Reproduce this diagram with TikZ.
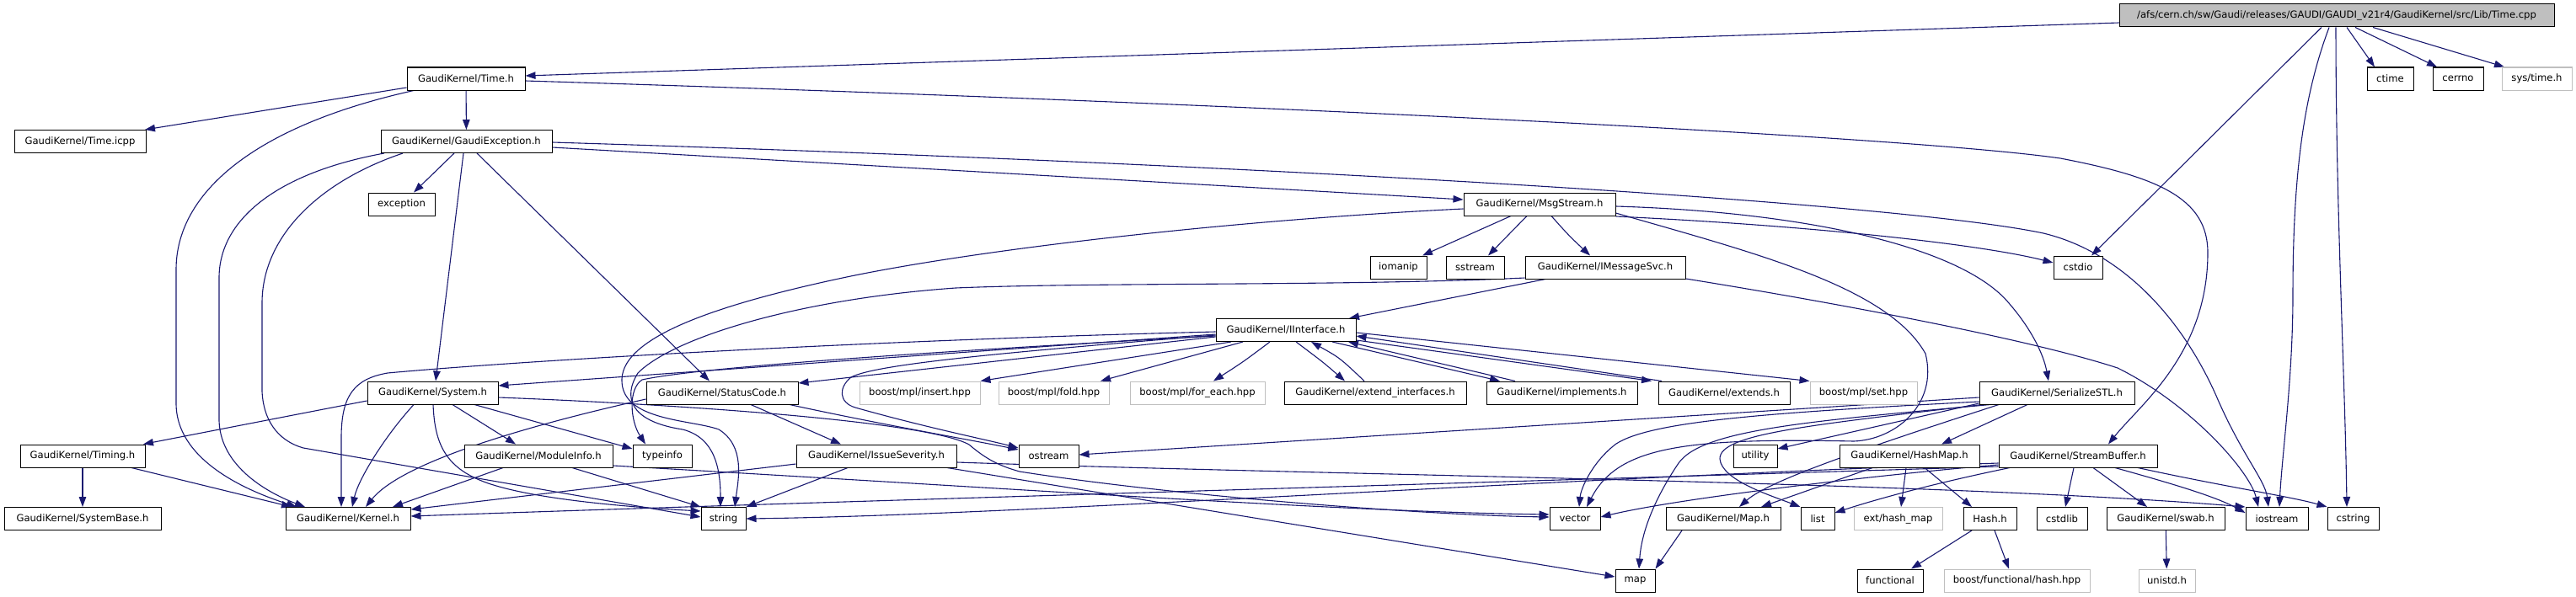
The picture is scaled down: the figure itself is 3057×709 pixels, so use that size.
\documentclass[tikz,border=0pt]{standalone}
\usepackage{fontspec}
\setmainfont{DejaVu Sans}
\usetikzlibrary{arrows.meta,backgrounds}
\definecolor{edgec}{HTML}{191970}
\definecolor{grayc}{HTML}{BFBFBF}
\newcommand{\nodefont}{\fontsize{11.6pt}{13pt}\selectfont}
\begin{document}
\begin{tikzpicture}[x=1pt,y=-1pt,
  box/.style={draw=black, fill=white, line width=1pt, minimum height=27pt, inner sep=0pt, font=\nodefont},
  gbox/.style={box, draw=grayc},
  rootbox/.style={box, fill=grayc},
  edge/.style={draw=edgec, line width=1.1pt, -{Triangle[length=12pt,width=8.5pt]}}]
\useasboundingbox (0,0) rectangle (3057,709);
% level 0-1
\node[rootbox,minimum width=516pt] (TimeCpp) at (2773,18.5) {/afs/cern.ch/sw/Gaudi/releases/GAUDI/GAUDI\_v21r4/GaudiKernel/src/Lib/Time.cpp};
\node[box,minimum width=140pt] (TimeH) at (553,93.5) {GaudiKernel/Time.h};
\node[box,minimum width=55pt] (ctime) at (2836.5,93.5) {ctime};
\node[box,minimum width=60pt] (cerrno) at (2917,93.5) {cerrno};
\node[gbox,minimum width=83pt] (systime) at (3010.5,93.5) {sys/time.h};
% level 2-3
\node[box,minimum width=156pt] (TimeIcpp) at (95,168) {GaudiKernel/Time.icpp};
\node[box,minimum width=203pt] (GExc) at (553.5,168) {GaudiKernel/GaudiException.h};
\node[box,minimum width=79pt] (exception) at (476.5,242.5) {exception};
\node[box,minimum width=180pt] (MsgStream) at (1827,242.5) {GaudiKernel/MsgStream.h};
% level 4-5
\node[box,minimum width=67pt] (iomanip) at (1659.5,317.5) {iomanip};
\node[box,minimum width=69pt] (sstream) at (1750.5,317.5) {sstream};
\node[box,minimum width=190pt] (IMsgSvc) at (1905,317.5) {GaudiKernel/IMessageSvc.h};
\node[box,minimum width=58pt] (cstdio) at (2466,317.5) {cstdio};
\node[box,minimum width=166pt] (IInterface) at (1526,392) {GaudiKernel/IInterface.h};
% level 6
\node[box,minimum width=155pt] (System) at (513.5,466.5) {GaudiKernel/System.h};
\node[box,minimum width=180pt] (StatusCode) at (857,466.5) {GaudiKernel/StatusCode.h};
\node[gbox,minimum width=143pt] (insert) at (1091.5,466.5) {boost/mpl/insert.hpp};
\node[gbox,minimum width=131pt] (fold) at (1250.5,466.5) {boost/mpl/fold.hpp};
\node[gbox,minimum width=160pt] (foreach) at (1421,466.5) {boost/mpl/for\_each.hpp};
\node[box,minimum width=216pt] (extif) at (1632,466.5) {GaudiKernel/extend\_interfaces.h};
\node[box,minimum width=179pt] (implements) at (1853.5,466.5) {GaudiKernel/implements.h};
\node[box,minimum width=156pt] (extends) at (2046,466.5) {GaudiKernel/extends.h};
\node[gbox,minimum width=127pt] (mplset) at (2211.5,466.5) {boost/mpl/set.hpp};
\node[box,minimum width=184pt] (SerSTL) at (2441,466.5) {GaudiKernel/SerializeSTL.h};
% level 7
\node[box,minimum width=148pt] (Timing) at (98,541.5) {GaudiKernel/Timing.h};
\node[box,minimum width=176pt] (ModuleInfo) at (639,541.5) {GaudiKernel/ModuleInfo.h};
\node[box,minimum width=70pt] (typeinfo) at (786,541.5) {typeinfo};
\node[box,minimum width=190pt] (IssueSev) at (1040,541.5) {GaudiKernel/IssueSeverity.h};
\node[box,minimum width=71pt] (ostream) at (1244.5,541.5) {ostream};
\node[box,minimum width=52pt] (utility) at (2083,541.5) {utility};
\node[box,minimum width=166pt] (HashMap) at (2266,541.5) {GaudiKernel/HashMap.h};
\node[box,minimum width=188pt] (StreamBuf) at (2466,541.5) {GaudiKernel/StreamBuffer.h};
% level 8
\node[box,minimum width=186pt] (SystemBase) at (98,616) {GaudiKernel/SystemBase.h};
\node[box,minimum width=148pt] (Kernel) at (413,616) {GaudiKernel/Kernel.h};
\node[box,minimum width=53pt] (string) at (858.5,616) {string};
\node[box,minimum width=60pt] (vector) at (1869,616) {vector};
\node[box,minimum width=136pt] (MapH) at (2045,616) {GaudiKernel/Map.h};
\node[box,minimum width=40pt] (list) at (2157,616) {list};
\node[gbox,minimum width=105pt] (hashmap) at (2252.5,616) {ext/hash\_map};
\node[box,minimum width=63pt] (Hash) at (2361.5,616) {Hash.h};
\node[box,minimum width=60pt] (cstdlib) at (2447,616) {cstdlib};
\node[box,minimum width=140pt] (swab) at (2570,616) {GaudiKernel/swab.h};
\node[box,minimum width=74pt] (iostream) at (2702,616) {iostream};
\node[box,minimum width=61pt] (cstring) at (2792.5,616) {cstring};
% level 9
\node[box,minimum width=47pt] (map) at (1940.5,689.5) {map};
\node[box,minimum width=78pt] (functional) at (2243,689.5) {functional};
\node[gbox,minimum width=173pt] (bfhash) at (2393.5,689.5) {boost/functional/hash.hpp};
\node[gbox,minimum width=67pt] (unistd) at (2571.5,689.5) {unistd.h};

\begin{scope}[on background layer]
% Time.cpp
\draw[edge] (TimeCpp.west |- 0,27) -- (TimeH.east |- 0,90);
\draw[edge] (TimeCpp.south -| 2755,0) -- (cstdio.north -| 2482,0);
\draw[edge] (TimeCpp.south -| 2764,0) .. controls (2735,110) and (2721,200) .. (2721,350) .. controls (2721,450) and (2708,540) .. (iostream.north -| 2705,0);
\draw[edge] (TimeCpp.south -| 2772,0) .. controls (2772,250) and (2783,450) .. (cstring.north -| 2785,0);
\draw[edge] (TimeCpp.south -| 2785,0) -- (ctime.north -| 2818,0);
\draw[edge] (TimeCpp.south -| 2795,0) -- (cerrno.north -| 2892,0);
\draw[edge] (TimeCpp.south -| 2816,0) -- (systime.north -| 2972,0);
% Time.h
\draw[edge] (TimeH.west |- 0,104) -- (TimeIcpp.north -| 172,0);
\draw[edge] (TimeH.south -| 491,0) .. controls (300,150) and (209,230) .. (209,320) -- (209,480) .. controls (210,550) and (300,585) .. (Kernel.north -| 352,0);
\draw[edge] (TimeH) -- (GExc);
\draw[edge] (TimeH.east |- 0,96) .. controls (1400,120) and (2250,160) .. (2445,188) .. controls (2560,210) and (2620,235) .. (2620,300) .. controls (2620,420) and (2540,480) .. (StreamBuf.north -| 2502,0);
% GaudiException.h
\draw[edge] (GExc.south -| 456,0) .. controls (330,205) and (260,260) .. (260,330) -- (260,500) .. controls (262,560) and (330,590) .. (Kernel.north -| 362,0);
\draw[edge] (GExc.south -| 478,0) .. controls (380,215) and (311,280) .. (311,360) -- (311,465) .. controls (313,505) and (335,525) .. (360,532) -- (string.west |- 0,614);
\draw[edge] (GExc.south -| 539,0) -- (exception.north -| 491,0);
\draw[edge] (GExc.south -| 550,0) -- (System.north -| 517,0);
\draw[edge] (GExc.south -| 566,0) -- (StatusCode.north -| 842,0);
\draw[edge] (GExc.east |- 0,175) -- (MsgStream.west |- 0,237);
\draw[edge] (GExc.east |- 0,169) .. controls (1500,195) and (2250,240) .. (2425,277) .. controls (2520,300) and (2590,380) .. (2630,470) .. controls (2660,540) and (2688,570) .. (iostream.north -| 2692,0);
% MsgStream.h
\draw[edge] (MsgStream.south -| 1793,0) -- (iomanip.north -| 1688,0);
\draw[edge] (MsgStream.south -| 1812,0) -- (sstream.north -| 1766,0);
\draw[edge] (MsgStream.south -| 1841,0) .. controls (1862,280) .. (IMsgSvc.north -| 1887,0);
\draw[edge] (MsgStream.west |- 0,248) .. controls (1450,262) and (1150,298) .. (1000,330) .. controls (850,362) and (740,400) .. (738,450) .. controls (736,500) and (820,498) .. (853,510) .. controls (885,530) and (876,570) .. (string.north -| 872,0);
\draw[edge] (MsgStream.east |- 0,257) .. controls (2150,268) and (2350,290) .. (cstdio.west |- 0,312);
\draw[edge] (MsgStream.east |- 0,245) .. controls (2150,252) and (2330,295) .. (2384,360) .. controls (2410,390) and (2425,420) .. (SerSTL.north -| 2431,0);
\draw[edge] (MsgStream.east |- 0,253) .. controls (2080,300) and (2240,340) .. (2285,420) .. controls (2300,480) and (2250,522) .. (2200,524) .. controls (2000,520) and (1920,530) .. (vector.north -| 1883,0);
% IMessageSvc.h
\draw[edge] (IMsgSvc.south -| 1834,0) -- (IInterface.north -| 1601,0);
\draw[edge] (IMsgSvc.west |- 0,330) .. controls (1600,340) and (1300,335) .. (1134,342) .. controls (950,355) and (800,400) .. (757,443) .. controls (740,470) and (745,500) .. (810,510) .. controls (850,520) and (855,560) .. (string.north -| 855,0);
\draw[edge] (IMsgSvc.east |- 0,331) .. controls (2150,355) and (2400,400) .. (2513,437) .. controls (2600,480) and (2670,560) .. (iostream.north -| 2680,0);
% IInterface.h
\draw[edge] (IInterface.west |- 0,394) .. controls (1000,405) and (600,430) .. (460,443) .. controls (420,450) and (405,470) .. (405,520) -- (Kernel.north -| 405,0);
\draw[edge] (IInterface.west |- 0,397) -- (System.east |- 0,458);
\draw[edge] (IInterface.west |- 0,400) -- (StatusCode.east |- 0,455);
\draw[edge] (IInterface.west |- 0,399) .. controls (1100,418) and (830,436) .. (762,451) .. controls (745,462) and (748,500) .. (typeinfo.north -| 766,0);
\draw[edge] (IInterface.west |- 0,398) .. controls (1200,418) and (1040,432) .. (1010,448) .. controls (995,460) and (995,478) .. (1015,484) .. controls (1100,508) and (1170,522) .. (ostream.west |- 0,532);
\draw[edge] (IInterface.south -| 1461,0) -- (insert.north east);
\draw[edge] (IInterface.south -| 1475,0) -- (fold.north -| 1306,0);
\draw[edge] (IInterface.south -| 1507,0) .. controls (1475,430) .. (foreach.north -| 1440,0);
\draw[edge] (IInterface.south -| 1538,0) .. controls (1570,430) .. (extif.north -| 1596,0);
\draw[edge] (extif.north -| 1619,0) .. controls (1590,425) .. (IInterface.south -| 1556,0);
\draw[edge] (IInterface.south -| 1581,0) -- (implements.north -| 1780,0);
\draw[edge] (implements.north -| 1798,0) -- (IInterface.south -| 1600,0);
\draw[edge] (IInterface.east |- 0,404) -- (extends.north -| 1960,0);
\draw[edge] (extends.north -| 1972,0) -- (IInterface.east |- 0,399);
\draw[edge] (IInterface.east |- 0,395) -- (mplset.north west);
% System.h
\draw[edge] (System.west |- 0,476) -- (Timing.north -| 170,0);
\draw[edge] (System.south -| 491,0) .. controls (455,520) and (425,570) .. (Kernel.north -| 418,0);
\draw[edge] (System.south -| 514,0) .. controls (516,530) and (530,560) .. (589,577) .. controls (650,595) and (760,603) .. (string.west |- 0,607);
\draw[edge] (System.south -| 537,0) -- (ModuleInfo.north -| 612,0);
\draw[edge] (System.south -| 563,0) -- (typeinfo.west |- 0,533);
\draw[edge] (System.east |- 0,472) .. controls (800,480) and (1100,500) .. (1150,528) .. controls (1170,545) and (1185,553) .. (1210,560) .. controls (1400,590) and (1700,612) .. (vector.west |- 0,614);
% Timing.h
\draw[edge] (Timing) -- (SystemBase);
\draw[edge] (Timing.south -| 156,0) -- (Kernel.north -| 346,0);
% ModuleInfo.h
\draw[edge] (ModuleInfo.south -| 597,0) -- (Kernel.north -| 466,0);
\draw[edge] (ModuleInfo.south -| 679,0) -- (string.north west);
\draw[edge] (ModuleInfo.east |- 0,553) .. controls (1200,580) and (1600,608) .. (vector.west |- 0,611);
% StatusCode.h
\draw[edge] (StatusCode.west |- 0,474) .. controls (650,500) and (480,545) .. (Kernel.north -| 434,0);
\draw[edge] (StatusCode.south -| 891,0) -- (IssueSev.north -| 998,0);
\draw[edge] (StatusCode.south -| 937,0) .. controls (1050,505) and (1150,522) .. (ostream.west |- 0,534);
% IssueSeverity.h
\draw[edge] (IssueSev.west |- 0,551) -- (Kernel.east |- 0,605);
\draw[edge] (IssueSev.south -| 1006,0) -- (string.north east);
\draw[edge] (IssueSev.south -| 1124,0) -- (map.west |- 0,685);
\draw[edge] (IssueSev.east |- 0,549) .. controls (1600,565) and (2300,572) .. (iostream.north west);
% StreamBuffer.h
\draw[edge] (StreamBuf.south -| 2461,0) -- (cstdlib.north -| 2451,0);
\draw[edge] (StreamBuf.south -| 2484,0) -- (swab.north -| 2548,0);
\draw[edge] (StreamBuf.south -| 2510,0) .. controls (2580,575) and (2630,590) .. (iostream.west |- 0,609);
\draw[edge] (StreamBuf.south -| 2537,0) .. controls (2640,578) and (2720,590) .. (cstring.north west);
\draw[edge] (StreamBuf.south -| 2385,0) .. controls (2290,575) and (2220,595) .. (list.east |- 0,609);
\draw[edge] (StreamBuf.west |- 0,552) .. controls (2250,562) and (2000,590) .. (vector.east |- 0,614);
\draw[edge] (StreamBuf.west |- 0,554) .. controls (1700,575) and (1000,595) .. (Kernel.east |- 0,613);
\draw[edge] (StreamBuf.west |- 0,550) .. controls (1800,570) and (1200,612) .. (string.east |- 0,616);
% SerializeSTL.h
\draw[edge] (SerSTL.west |- 0,472) -- (ostream.east |- 0,540);
\draw[edge] (SerSTL.west |- 0,477) .. controls (2100,490) and (1960,500) .. (1918,527) .. controls (1890,548) and (1876,580) .. (vector.north -| 1874,0);
\draw[edge] (SerSTL.south -| 2352,0) .. controls (2150,505) and (2040,515) .. (2041,545) .. controls (2043,570) and (2100,588) .. (list.north west);
\draw[edge] (SerSTL.south -| 2362,0) .. controls (2150,500) and (2020,510) .. (1992,550) .. controls (1965,590) and (1948,630) .. (map.north -| 1945,0);
\draw[edge] (SerSTL.west |- 0,479) -- (utility.east |- 0,533);
\draw[edge] (SerSTL.south -| 2372,0) .. controls (2220,530) and (2100,570) .. (MapH.north -| 2064,0);
\draw[edge] (SerSTL.south -| 2406,0) -- (HashMap.north -| 2304,0);
% HashMap.h
\draw[edge] (HashMap.south -| 2222,0) -- (MapH.north -| 2090,0);
\draw[edge] (HashMap.south -| 2262,0) -- (hashmap.north -| 2256,0);
\draw[edge] (HashMap.south -| 2284,0) -- (Hash.north -| 2340,0);
% Hash.h
\draw[edge] (Hash.south -| 2340,0) -- (functional.north -| 2268,0);
\draw[edge] (Hash.south -| 2367,0) -- (bfhash.north -| 2384,0);
% others
\draw[edge] (swab) -- (unistd);
\draw[edge] (MapH.south -| 1996,0) -- (map.north east);
\end{scope}
\end{tikzpicture}
\end{document}
